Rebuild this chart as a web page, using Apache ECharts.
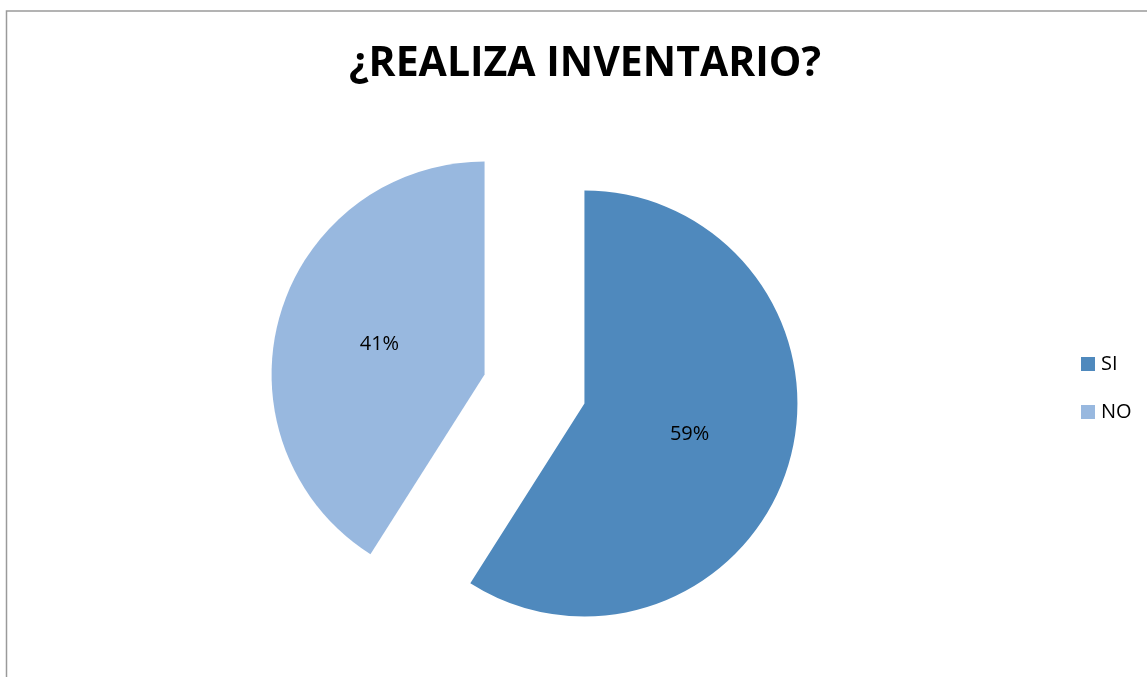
<!DOCTYPE html>
<html>
<head>
<meta charset="utf-8">
<script src="https://cdn.jsdelivr.net/npm/echarts@6/dist/echarts.min.js"></script>
<style>
  html, body { margin: 0; padding: 0; background: #fff; }
  #chart { width: 1147px; height: 677px; }
</style>
</head>
<body>
<div id="chart"></div>
<script>
// datos de la encuesta
var categories = ["SI", "NO"];
var values = [59, 41];
var colors = ["#4F89BD", "#98B8DF"];

var chart = echarts.init(document.getElementById("chart"));

var option = {
  backgroundColor: "#fff",
  title: {
    text: "¿REALIZA INVENTARIO?",
    left: 580,
    top: 39,
    textAlign: "center",
    textStyle: {
      fontFamily: "Open Sans",
      fontWeight: "bold",
      fontSize: 41,
      color: "#000"
    }
  },
  legend: {
    orient: "vertical",
    left: 1076,
    top: 349,
    itemWidth: 14,
    itemHeight: 14,
    itemGap: 28,
    icon: "rect",
    selectedMode: false,
    textStyle: { fontFamily: "Open Sans", fontSize: 20, color: "#000", padding: [0, 0, 0, 1] },
    data: categories
  },
  // marco del área del gráfico
  graphic: [
    {
      type: "polyline",
      shape: { points: [[6.5, 700], [6.5, 11], [1200, 11]] },
      style: { stroke: "#9a9a9a", lineWidth: 1.5, fill: null },
      silent: true
    }
  ],
  series: [
    {
      type: "pie",
      center: [534.5, 389],
      radius: 213,
      startAngle: 90,
      clockwise: true,
      selectedMode: "multiple",
      selectedOffset: 52,
      animation: false,
      label: {
        show: true,
        position: "inside",
        formatter: "{d}%",
        fontFamily: "Open Sans",
        fontSize: 20,
        color: "#000"
      },
      labelLine: { show: false },
      emphasis: { disabled: true },
      data: categories.map(function (c, i) {
        return { name: c, value: values[i], selected: true, itemStyle: { color: colors[i] } };
      })
    }
  ]
};

chart.setOption(option);
</script>
</body>
</html>
